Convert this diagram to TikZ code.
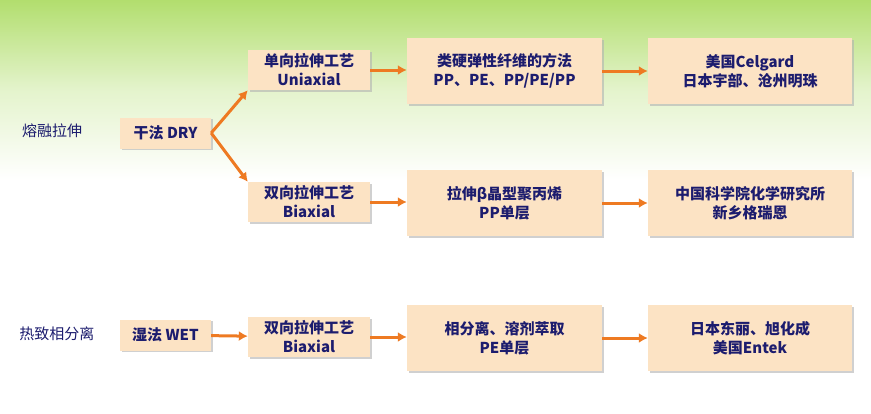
\documentclass[tikz,border=0pt]{standalone}
\usepackage{fontspec}
\setmainfont{Liberation Sans}
\newfontfamily\cjk{Noto Sans CJK SC}
\usetikzlibrary{shadows,arrows.meta}
\definecolor{tx}{HTML}{1C1C6E}
\definecolor{bx}{HTML}{FCE3C4}
\definecolor{ar}{HTML}{EE7A22}
\definecolor{gr}{HTML}{B2DE6E}
\tikzset{
 bbox/.style={fill=bx,draw=none,drop shadow={shadow xshift=1.5pt,shadow yshift=-1.5pt,fill=black!30,opacity=.6},
   font=\cjk\bfseries\fontsize{15}{19}\selectfont,text=tx,align=center,inner sep=0pt},
 lab/.style={font=\cjk\fontsize{15}{18}\selectfont,text=tx},
 arr/.style={draw=ar,line width=3pt,-{Latex[length=9pt,width=10pt]}}
}
\begin{document}
\begin{tikzpicture}[x=1pt,y=-1pt]
\useasboundingbox (0,0) rectangle (871,413);
\shade[top color=gr,bottom color=white,middle color=gr!35] (0,0) rectangle (871,180);
\fill[white] (0,180) rectangle (871,413);
\node[lab] (l1) at (52,131) {熔融拉伸};
\node[lab] (l2) at (57,334) {热致相分离};
\node[bbox,minimum width=91,minimum height=31] (dry) at (165.5,133) {干法 DRY};
\node[bbox,minimum width=91,minimum height=31] (wet) at (165.5,335) {湿法 WET};
\node[bbox,minimum width=122,minimum height=40] (u) at (309,70) {单向拉伸工艺\\Uniaxial};
\node[bbox,minimum width=122,minimum height=40] (b1) at (309,202) {双向拉伸工艺\\Biaxial};
\node[bbox,minimum width=122,minimum height=40] (b2) at (309,337) {双向拉伸工艺\\Biaxial};
\node[bbox,minimum width=195,minimum height=66] (m1) at (504.5,71) {类硬弹性纤维的方法\\PP、PE、PP/PE/PP};
\node[bbox,minimum width=195,minimum height=66] (m2) at (504.5,203) {拉伸β晶型聚丙烯\\PP单层};
\node[bbox,minimum width=195,minimum height=66] (m3) at (504.5,338) {相分离、溶剂萃取\\PE单层};
\node[bbox,minimum width=204,minimum height=66] (r1) at (750,71) {美国Celgard\\日本宇部、沧州明珠};
\node[bbox,minimum width=204,minimum height=66] (r2) at (750,203) {中国科学院化学研究所\\新乡格瑞恩};
\node[bbox,minimum width=204,minimum height=66] (r3) at (750,338) {日本东丽、旭化成\\美国Entek};
\draw[arr] (dry.east) -- (u.south west);
\draw[arr] (dry.east) -- (b1.north west);
\draw[arr] (wet) -- (b2);
\draw[arr] (u.east) -- (m1.west|-u.east);
\draw[arr] (b1.east) -- (m2.west|-b1.east);
\draw[arr] (b2.east) -- (m3.west|-b2.east);
\draw[arr] (m1) -- (r1);
\draw[arr] (m2) -- (r2);
\draw[arr] (m3) -- (r3);
\end{tikzpicture}
\end{document}
